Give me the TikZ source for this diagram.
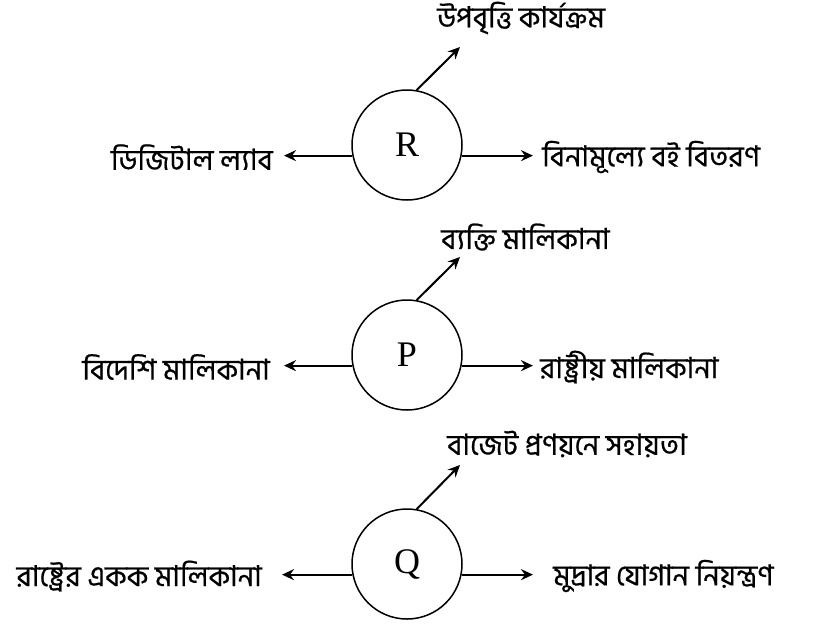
\documentclass[tikz,border=0pt]{standalone}
\usepackage{fontspec}
\setmainfont{Liberation Serif}
\newfontfamily\bn[Script=Bengali,FakeBold=0.6]{Hind Siliguri}
\usetikzlibrary{arrows.meta}
\tikzset{
  hub/.style={circle, draw, line width=1.5pt, minimum size=110pt, inner sep=0pt, font=\fontsize{36}{36}\selectfont},
  arr/.style={line width=2pt, -{Stealth[length=12pt,width=11pt,inset=4pt]}},
  lbl/.style={inner sep=0pt, font=\bn\fontsize{29}{32}\selectfont},
}
\begin{document}
\begin{tikzpicture}[x=1pt,y=-1pt]
\useasboundingbox (0,0) rectangle (832,633);
% R
\node[hub] (R) at (407,145) {R};
\coordinate (Rt) at (460,47);
\node[lbl, anchor=west, inner xsep=0pt] (Rtop) at (437,18) {উপবৃত্তি কার্যক্রম};
\node[lbl, anchor=east, inner xsep=11pt] (Rl) at (284,157) {ডিজিটাল ল্যাব};
\node[lbl, anchor=west, inner xsep=9pt] (Rr) at (533,157) {বিনামূল্যে বই বিতরণ};
\draw[arr] (R.80) -- (Rt);
\draw[arr] (R.191.5) -- (R.191.5 -| Rl.east);
\draw[arr] (R.-11.5) -- (R.-11.5 -| Rr.west);
% P
\node[hub] (P) at (407,355) {P};
\coordinate (Pt) at (460,257);
\node[lbl, anchor=west, inner xsep=0pt] (Ptop) at (441,237) {ব্যক্তি মালিকানা};
\node[lbl, anchor=east, inner xsep=14pt] (Pl) at (284,367) {বিদেশি মালিকানা};
\node[lbl, anchor=west, inner xsep=7pt] (Pr) at (533,367) {রাষ্ট্রীয় মালিকানা};
\draw[arr] (P.80) -- (Pt);
\draw[arr] (P.191.5) -- (P.191.5 -| Pl.east);
\draw[arr] (P.-11.5) -- (P.-11.5 -| Pr.west);
% Q
\node[hub] (Q) at (407,564) {Q};
\coordinate (Qt) at (460,465);
\node[lbl, anchor=west, inner xsep=0pt] (Qtop) at (447,444) {বাজেট প্রণয়নে সহায়তা};
\node[lbl, anchor=east, inner xsep=20pt] (Ql) at (282,576) {রাষ্ট্রের একক মালিকানা};
\node[lbl, anchor=west, inner xsep=20pt] (Qr) at (533,576) {মুদ্রার যোগান নিয়ন্ত্রণ};
\draw[arr] (Q.80) -- (Qt);
\draw[arr] (Q.191.5) -- (Q.191.5 -| Ql.east);
\draw[arr] (Q.-11.5) -- (Q.-11.5 -| Qr.west);
\end{tikzpicture}
\end{document}
